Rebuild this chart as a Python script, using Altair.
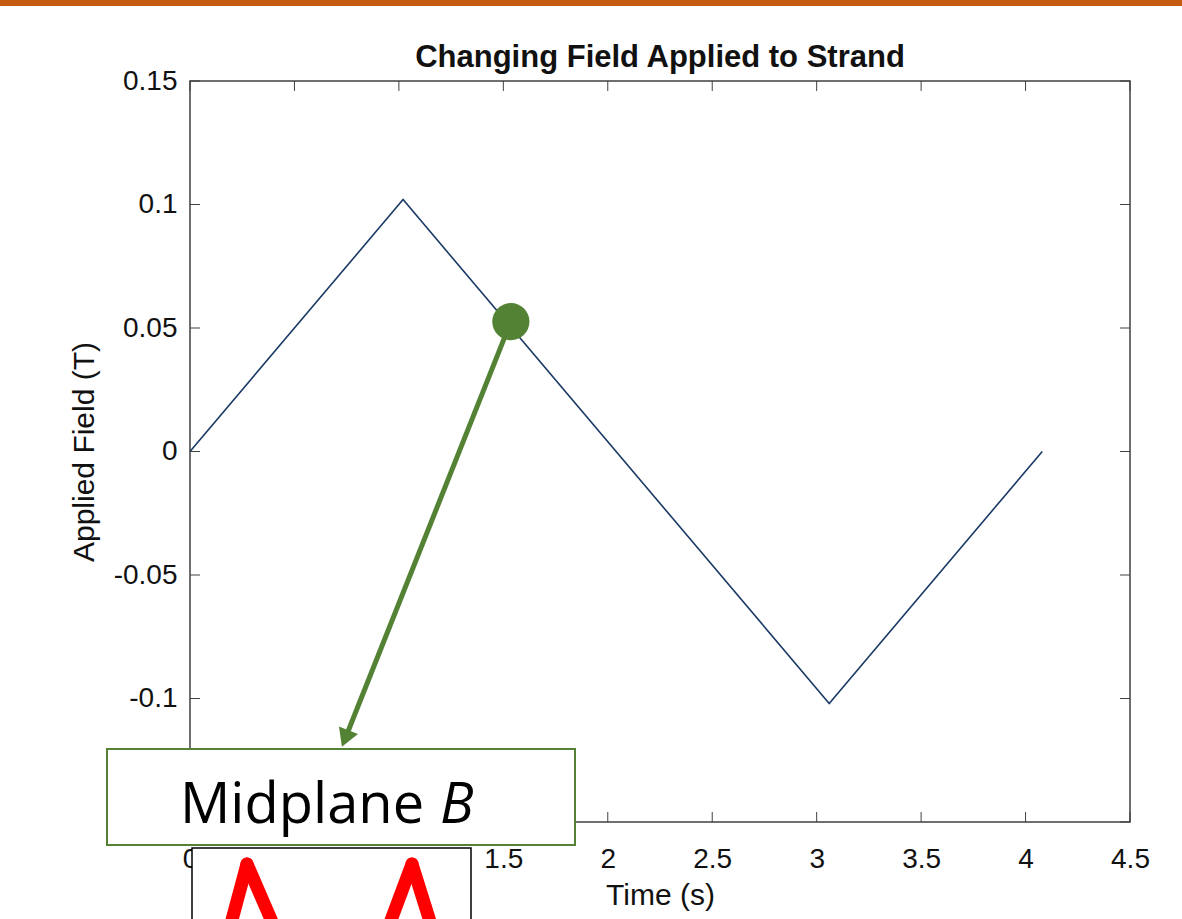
import altair as alt
import pandas as pd

# ---- data ----
time_s = [0.0, 1.02, 3.06, 4.08]
field_t = [0.0, 0.102, -0.102, 0.0]

marker_time = [1.536]
marker_field = [0.0526]

arrow_start_time = [1.536]
arrow_start_field = [0.0526]
arrow_end_time = [0.743]
arrow_end_field = [-0.1162]

x_ticks = [0, 0.5, 1, 1.5, 2, 2.5, 3, 3.5, 4, 4.5]
y_ticks = [-0.15, -0.1, -0.05, 0, 0.05, 0.1, 0.15]

title_text = "Changing Field Applied to Strand"

W, H = 940, 741
FONT = "Liberation Sans"
AX = "#404040"

line_df = pd.DataFrame({"t": time_s, "b": field_t})
one_df = pd.DataFrame({"k": [0]})
marker_df = pd.DataFrame({"t": marker_time, "b": marker_field})
arrow_df = pd.DataFrame({"t": arrow_start_time, "b": arrow_start_field,
                         "t2": arrow_end_time, "b2": arrow_end_field})
xt_df = pd.DataFrame({"t": x_ticks})
yt_df = pd.DataFrame({"b": y_ticks})

xscale = alt.Scale(domain=[0, 4.5], nice=False, zero=False)
yscale = alt.Scale(domain=[-0.15, 0.15], nice=False, zero=False)

xaxis = alt.Axis(values=x_ticks, labelExpr="'' + datum.value", ticks=False, domain=False,
                 grid=False, labelFont=FONT, labelFontSize=28, labelColor="#111",
                 labelPadding=23, title="Time (s)", titleFont=FONT, titleFontSize=30,
                 titleFontWeight="normal", titleColor="#111", titlePadding=7,
                 labelFlush=False)
yaxis = alt.Axis(values=y_ticks, labelExpr="'' + datum.value", ticks=False, domain=False,
                 grid=False, labelFont=FONT, labelFontSize=28, labelColor="#111",
                 labelPadding=13, title="Applied Field (T)", titleFont=FONT, titleFontSize=30,
                 titleFontWeight="normal", titleColor="#111", titlePadding=14,
                 labelFlush=False)

base_line = alt.Chart(line_df).mark_line(color="#1b3a66", strokeWidth=1.6).encode(
    x=alt.X("t:Q", scale=xscale, axis=xaxis),
    y=alt.Y("b:Q", scale=yscale, axis=yaxis),
)

# inner ticks (MATLAB style, on all four sides)
tick_len = 10
xt_bottom = alt.Chart(xt_df).mark_rule(color=AX, strokeWidth=1).encode(
    x=alt.X("t:Q", scale=xscale), y=alt.value(H), y2=alt.value(H - tick_len))
xt_top = alt.Chart(xt_df).mark_rule(color=AX, strokeWidth=1).encode(
    x=alt.X("t:Q", scale=xscale), y=alt.value(0), y2=alt.value(tick_len))
yt_left = alt.Chart(yt_df).mark_rule(color=AX, strokeWidth=1).encode(
    y=alt.Y("b:Q", scale=yscale), x=alt.value(0), x2=alt.value(tick_len))
yt_right = alt.Chart(yt_df).mark_rule(color=AX, strokeWidth=1).encode(
    y=alt.Y("b:Q", scale=yscale), x=alt.value(W), x2=alt.value(W - tick_len))

GREEN = "#548235"

arrow = alt.Chart(arrow_df).mark_rule(color=GREEN, strokeWidth=5).encode(
    x=alt.X("t:Q", scale=xscale), y=alt.Y("b:Q", scale=yscale),
    x2="t2:Q", y2="b2:Q")
arrow_head = alt.Chart(arrow_df).mark_point(
    shape="triangle-up", filled=True, color=GREEN, opacity=1, size=420, angle=201.6
).encode(x=alt.X("t2:Q", scale=xscale), y=alt.Y("b2:Q", scale=yscale))

dot = alt.Chart(marker_df).mark_circle(color=GREEN, opacity=1, size=1385).encode(
    x=alt.X("t:Q", scale=xscale), y=alt.Y("b:Q", scale=yscale))

# title
title = alt.Chart(one_df).mark_text(
    text=title_text, font=FONT, fontSize=31, fontWeight="bold", color="#111",
    align="center", baseline="alphabetic").encode(x=alt.value(W / 2), y=alt.value(-14))

# top orange band
band = alt.Chart(one_df).mark_rect(color="#C55A11").encode(
    x=alt.value(-190), x2=alt.value(W + 52), y=alt.value(-81), y2=alt.value(-75))

# "Midplane B" callout box
box1 = alt.Chart(one_df).mark_rect(fill="white", stroke=GREEN, strokeWidth=2).encode(
    x=alt.value(-83), x2=alt.value(385), y=alt.value(668), y2=alt.value(764))
txt1 = alt.Chart(one_df).mark_text(
    text="Midplane", font="Open Sans", fontSize=56, align="left", baseline="alphabetic",
    color="black").encode(x=alt.value(-10), y=alt.value(742))
txt2 = alt.Chart(one_df).mark_text(
    text="B", font="Open Sans", fontSize=56, fontStyle="italic", align="left",
    baseline="alphabetic", color="black").encode(x=alt.value(250), y=alt.value(742))

# cropped inset box below
box2 = alt.Chart(one_df).mark_rect(fill="white", stroke="black", strokeWidth=1.5).encode(
    x=alt.value(2), x2=alt.value(281), y=alt.value(767), y2=alt.value(860))
RED = "#FF0000"
def red_seg(x1, y1, x2, y2):
    return alt.Chart(one_df).mark_rule(color=RED, strokeWidth=13, strokeCap="round").encode(
        x=alt.value(x1), y=alt.value(y1), x2=alt.value(x2), y2=alt.value(y2))
reds = [red_seg(57, 783, 39, 850), red_seg(57, 783, 86, 850),
        red_seg(222, 783, 197, 850), red_seg(222, 783, 243, 850)]

chart = alt.layer(
    base_line, xt_bottom, xt_top, yt_left, yt_right, arrow, arrow_head, dot,
    title, band, box1, txt1, txt2, box2, *reds
).properties(
    width=W, height=H,
    padding={"left": 190, "top": 81, "right": 52, "bottom": 97},
    autosize=alt.AutoSizeParams(type="none"),
    background="white",
).configure_view(stroke=AX, strokeWidth=1.5)

chart.save("out.html", embed_options={"renderer": "svg", "actions": False})
